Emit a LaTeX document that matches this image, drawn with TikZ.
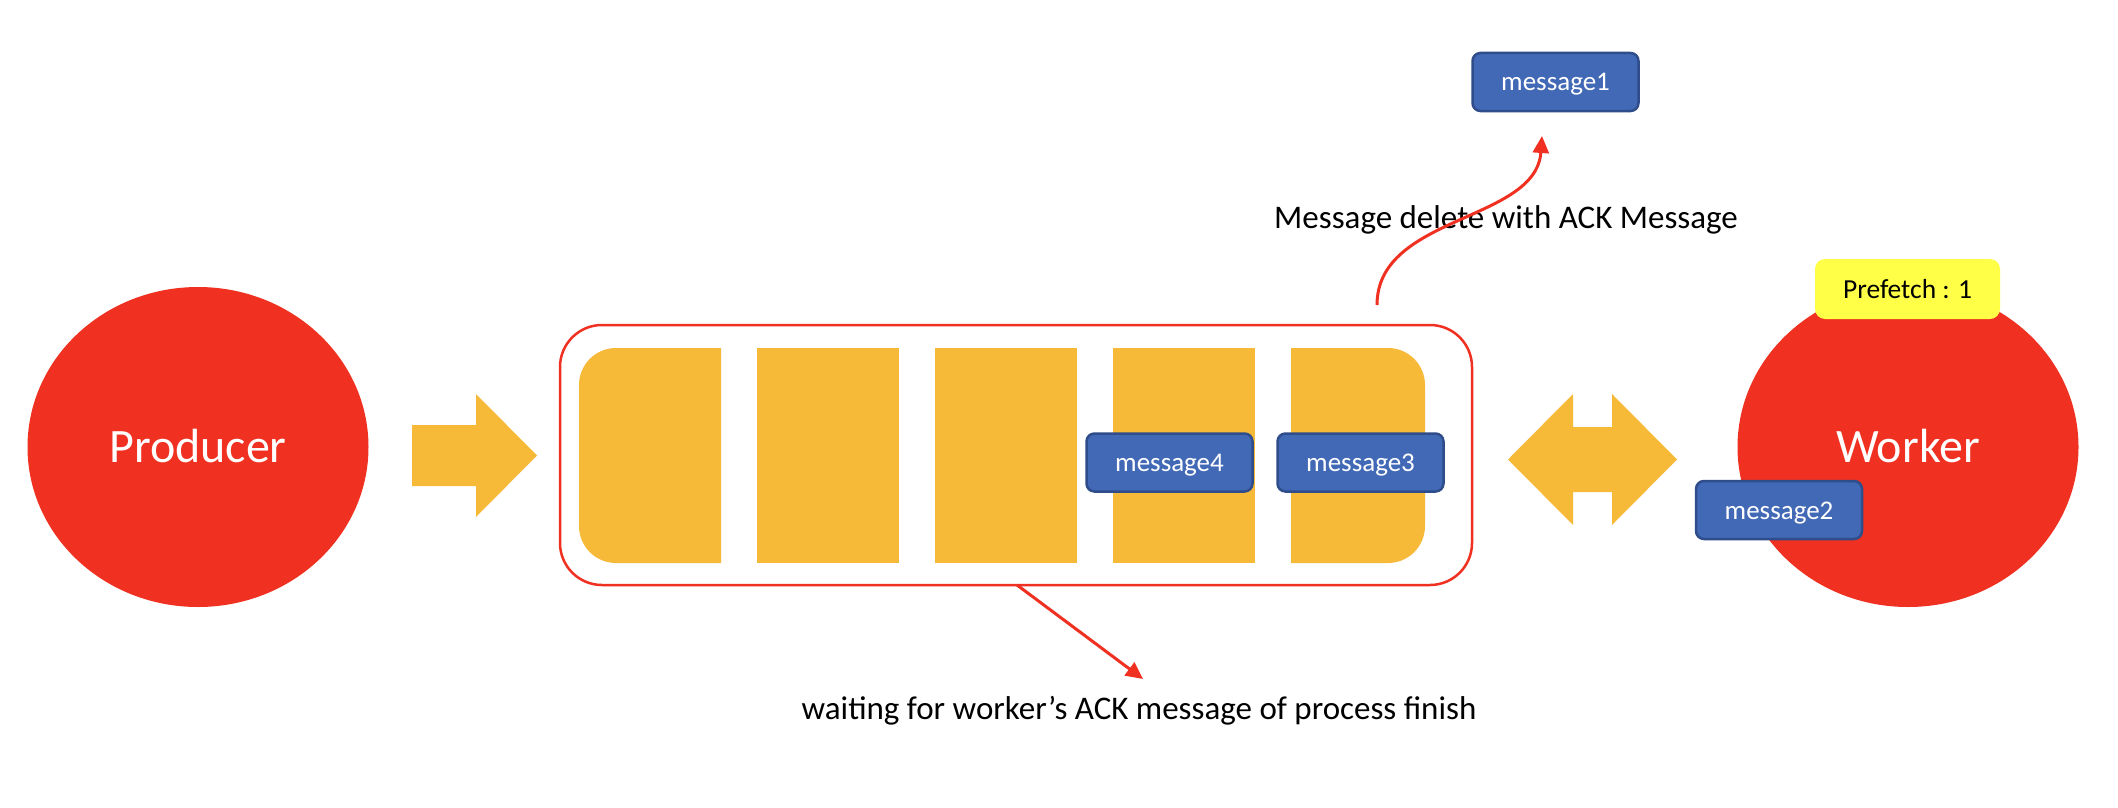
\documentclass[tikz,border=0pt]{standalone}
\usepackage{fontspec}
\setmainfont{Carlito}
\usetikzlibrary{shapes.geometric,arrows.meta}
\definecolor{redc}{RGB}{240,48,32}
\definecolor{cellc}{RGB}{247,185,56}
\definecolor{msgc}{RGB}{66,105,182}
\definecolor{msgb}{RGB}{47,77,138}
\definecolor{prefc}{RGB}{255,255,72}
\begin{document}
\begin{tikzpicture}[x=1pt,y=-1pt,
  actor/.style={ellipse, fill=redc, minimum width=341pt, minimum height=320pt, inner sep=0pt, text=white, font=\fontsize{48}{58}\selectfont, text height=31pt, text depth=0pt},
  msg/.style={rectangle, rounded corners=8pt, fill=msgc, draw=msgb, line width=2.5pt, minimum width=166pt, minimum height=58pt, inner sep=0pt, text=white, font=\fontsize{27}{32}\selectfont, text height=18pt, text depth=0pt},
  cellbox/.style={rectangle, fill=cellc, minimum width=142pt, minimum height=215pt, inner sep=0pt},
  lbl/.style={anchor=base, inner sep=0pt, font=\fontsize{33}{40}\selectfont},
  fatarrow/.style={fill=cellc},
  redarrow/.style={draw=redc, line width=3pt, -{Triangle[length=17pt,width=16pt]}}
]
\fill[white] (0,0) rectangle (2118,808);
\useasboundingbox (0,0) rectangle (2118,808);

% actors
\node[actor] (producer) at (198,447) {Producer};
\node[actor] (worker) at (1908,447) {Worker};

% fat arrows
\fill[fatarrow] (412,425) -- (476,425) -- (476,394) -- (537,455.5) -- (476,517) -- (476,486) -- (412,486) -- cycle;
\fill[fatarrow] (1508,459.5) -- (1573,394) -- (1573,427) -- (1612,427) -- (1612,394) -- (1677,459.5) -- (1612,525) -- (1612,492) -- (1573,492) -- (1573,525) -- cycle;

% queue
\node[draw=redc, line width=2.5pt, rounded corners=42pt, minimum width=912pt, minimum height=260pt, inner sep=0pt] (queue) at (1016,455) {};
\begin{scope}
  \clip (579,340) rectangle (721,570);
  \fill[cellc, rounded corners=37pt] (579,348) rectangle (770,563);
\end{scope}
\node[cellbox] (cell2) at (828,455.5) {};
\node[cellbox] (cell3) at (1006,455.5) {};
\node[cellbox] (cell4) at (1184,455.5) {};
\begin{scope}
  \clip (1291,340) rectangle (1440,570);
  \fill[cellc, rounded corners=37pt] (1240,348) rectangle (1425,563);
\end{scope}

% messages
\node[msg] (m4) at (1169.5,462.5) {message4};
\node[msg] (m3) at (1360.5,462.5) {message3};
\node[msg] (m1) at (1555.5,82) {message1};
\node[msg] (m2) at (1779,510) {message2};
\node[rectangle, rounded corners=10pt, fill=prefc, minimum width=185pt, minimum height=60pt, inner sep=0pt, font=\fontsize{27.5}{32}\selectfont, text height=18pt, text depth=0pt] (prefetch) at (1907.5,289) {Prefetch : 1};

% labels
\node[lbl] (dellbl) at (1506,228) {Message delete with ACK Message};
\node[lbl] (waitlbl) at (1139,719) {waiting for worker’s ACK message of process finish};

% red connectors
\coordinate (ackstart) at (1377,305);
\coordinate (acktip) at (1542,136);
\draw[redarrow] (ackstart) .. controls (1377,215) and (1536,222) .. (acktip);
\coordinate (waitstart) at (1017,585);
\coordinate (waittip) at (1143,679);
\draw[redarrow] (waitstart) -- (waittip);
\end{tikzpicture}
\end{document}
